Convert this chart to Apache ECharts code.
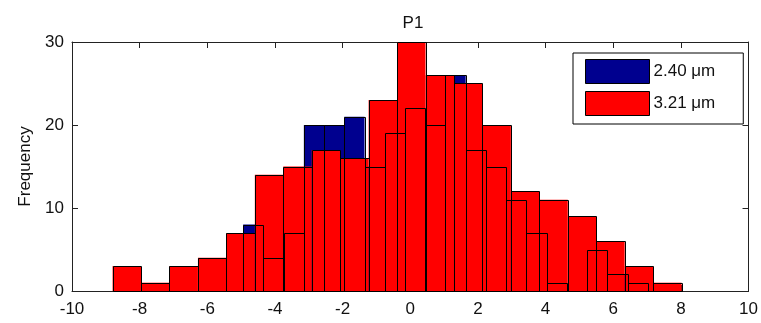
<!DOCTYPE html>
<html>
<head>
<meta charset="utf-8">
<title>P1</title>
<script src="https://cdn.jsdelivr.net/npm/echarts@6/dist/echarts.min.js"></script>
<style>
  html, body { margin: 0; padding: 0; background: #fff; }
  #chart { width: 761px; height: 323px; }
</style>
</head>
<body>
<div id="chart"></div>
<script>
// Histogram counts per bin for each particle size
const seriesNames = ['2.40 μm', '3.21 μm'];
const blueCounts = [8, 4, 7, 20, 20, 21, 15, 19, 22, 20, 26, 17, 15, 11, 7, 1, 0, 5, 2, 1];
const redCounts  = [3, 1, 3, 4, 7, 14, 15, 17, 16, 23, 30, 26, 25, 20, 12, 11, 9, 6, 3, 1];
// Data range covered by each histogram (20 equal bins each)
const blueRange = [-4.94, 7.02];
const redRange  = [-8.80, 8.02];
// Axis ticks
const xTicks = [-10, -8, -6, -4, -2, 0, 2, 4, 6, 8, 10];
const yTicks = [0, 10, 20, 30];

const FONT = "'Liberation Sans', Arial, Helvetica, sans-serif";
const TEXT = '#111';
const AXIS = '#222';
const BLUE = '#00008f';
const RED  = '#ff0000';

// Turn counts + range into [left edge, right edge, count] rows
function binRows(counts, range) {
  const n = counts.length;
  const w = (range[1] - range[0]) / n;
  return counts.map((c, i) => [range[0] + i * w, range[0] + (i + 1) * w, c]);
}
const blueRows = binRows(blueCounts, blueRange);
const redRows = binRows(redCounts, redRange);

function rectFor(api) {
  const p0 = api.coord([api.value(0), api.value(2)]);
  const p1 = api.coord([api.value(1), 0]);
  return { x: p0[0], y: p0[1], width: p1[0] - p0[0], height: p1[1] - p0[1] };
}

function faceRender(color) {
  return function (params, api) {
    if (api.value(2) <= 0) return null;
    return { type: 'rect', shape: rectFor(api), style: { fill: color, stroke: null } };
  };
}

function edgeRender() {
  return function (params, api) {
    if (api.value(2) <= 0) return null;
    const r = rectFor(api);
    const x0 = Math.round(r.x) + 0.5, x1 = Math.round(r.x + r.width) + 0.5;
    const y0 = Math.round(r.y) + 0.5, y1 = Math.round(r.y + r.height) + 0.5;
    return {
      type: 'rect',
      shape: { x: x0, y: y0, width: x1 - x0, height: y1 - y0 },
      style: { fill: null, stroke: '#000', lineWidth: 1 }
    };
  };
}

function customSeries(name, rows, render, color) {
  return {
    type: 'custom',
    name: name,
    data: rows,
    encode: { x: [0, 1], y: 2 },
    itemStyle: { color: color, borderColor: '#000', borderWidth: 1 },
    renderItem: render,
    silent: true,
    animation: false
  };
}

const tickLabel = { fontSize: 17, fontFamily: FONT, color: TEXT };

const chart = echarts.init(document.getElementById('chart'), null, { renderer: 'canvas' });
chart.setOption({
  backgroundColor: '#fff',
  animation: false,
  title: {
    text: 'P1',
    left: 408,
    top: 10,
    textAlign: 'center',
    textStyle: { fontSize: 17, fontWeight: 'normal', fontFamily: FONT, color: TEXT }
  },
  grid: { left: 72, top: 42, width: 678, height: 249, show: false },
  legend: {
    data: seriesNames,
    orient: 'vertical',
    left: 573,
    top: 53,
    padding: [6, 28, 8, 12],
    itemWidth: 64,
    itemHeight: 24,
    itemGap: 7,
    icon: 'rect',
    selectedMode: false,
    backgroundColor: '#fff',
    borderColor: '#000',
    borderWidth: 1,
    itemStyle: { borderColor: '#000', borderWidth: 1 },
    textStyle: { fontSize: 17, fontFamily: FONT, color: TEXT, padding: [0, 0, 0, -1] }
  },
  xAxis: [
    {
      type: 'value', position: 'bottom', min: xTicks[0], max: xTicks[xTicks.length - 1], interval: 2,
      axisLine: { show: true, lineStyle: { color: AXIS, width: 1 } },
      axisTick: { show: true, inside: true, length: 6, lineStyle: { color: AXIS } },
      axisLabel: Object.assign({ margin: 10 }, tickLabel),
      splitLine: { show: false }
    },
    {
      type: 'value', position: 'top', min: xTicks[0], max: xTicks[xTicks.length - 1], interval: 2,
      axisLine: { show: true, onZero: false, lineStyle: { color: AXIS, width: 1 } },
      axisTick: { show: true, inside: true, length: 6, lineStyle: { color: AXIS } },
      axisLabel: { show: false },
      splitLine: { show: false }
    }
  ],
  yAxis: [
    {
      type: 'value', position: 'left', min: yTicks[0], max: yTicks[yTicks.length - 1], interval: 10,
      name: 'Frequency', nameLocation: 'middle', nameGap: 38, nameRotate: 90,
      nameTextStyle: { fontSize: 17, fontFamily: FONT, color: TEXT },
      axisLine: { show: true, onZero: false, lineStyle: { color: AXIS, width: 1 } },
      axisTick: { show: true, inside: true, length: 6, lineStyle: { color: AXIS } },
      axisLabel: Object.assign({ margin: 8 }, tickLabel),
      splitLine: { show: false }
    },
    {
      type: 'value', position: 'right', min: yTicks[0], max: yTicks[yTicks.length - 1], interval: 10,
      axisLine: { show: true, onZero: false, lineStyle: { color: AXIS, width: 1 } },
      axisTick: { show: true, inside: true, length: 6, lineStyle: { color: AXIS } },
      axisLabel: { show: false },
      splitLine: { show: false }
    }
  ],
  series: [
    customSeries(seriesNames[0], blueRows, faceRender(BLUE), BLUE),
    customSeries(seriesNames[1], redRows, faceRender(RED), RED),
    customSeries(seriesNames[0], blueRows, edgeRender(), BLUE),
    customSeries(seriesNames[1], redRows, edgeRender(), RED)
  ]
});
</script>
</body>
</html>
